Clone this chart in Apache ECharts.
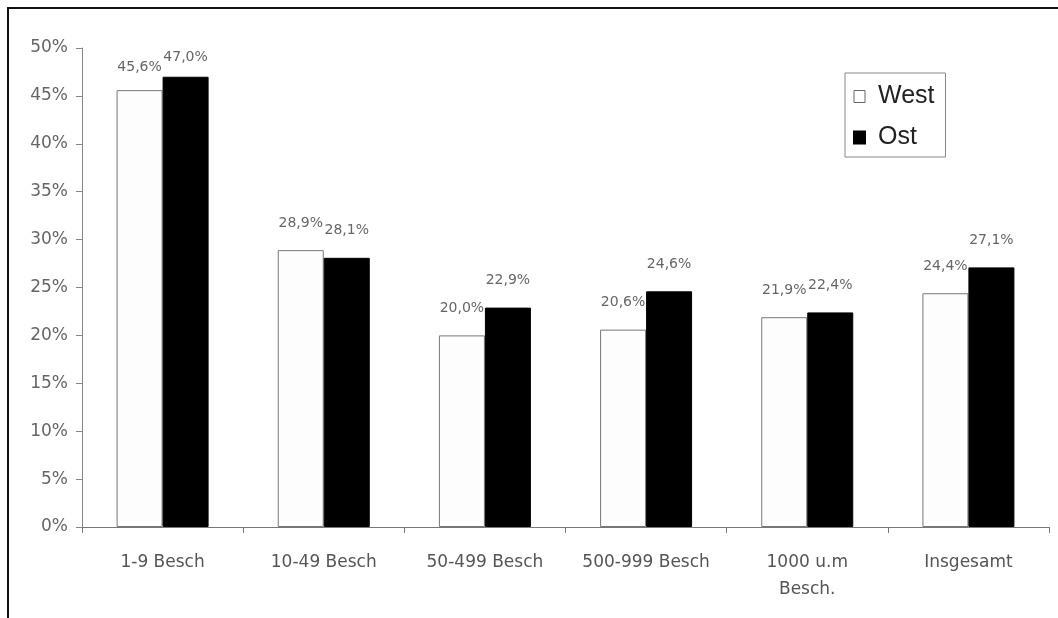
<!DOCTYPE html>
<html>
<head>
<meta charset="utf-8">
<script src="https://cdn.jsdelivr.net/npm/echarts@6/dist/echarts.min.js"></script>
<style>
  html, body { margin: 0; padding: 0; background: #fff; }
  #wrap { position: relative; width: 1058px; height: 618px; overflow: hidden; }
  #chart { position: absolute; left: 0; top: 0; width: 1058px; height: 618px; }
  #frame { position: absolute; left: 7px; top: 7px; width: 1100px; height: 700px;
           border-left: 2px solid #111; border-top: 2px solid #111; pointer-events: none; }
</style>
</head>
<body>
<div id="wrap">
  <div id="chart"></div>
  <div id="frame"></div>
</div>
<script>
// Anteil nach Betriebsgröße, West / Ost (in %)
const categories = ['1-9 Besch', '10-49 Besch', '50-499 Besch', '500-999 Besch', '1000 u.m\nBesch.', 'Insgesamt'];
const westValues = [45.6, 28.9, 20.0, 20.6, 21.9, 24.4];
const ostValues  = [47.0, 28.1, 22.9, 24.6, 22.4, 27.1];
const yTicks = { min: 0, max: 50, interval: 5 };

const pct = v => v.toFixed(1).replace('.', ',') + '%';

// bar items; the tallest pair sits close to the top, so its labels hug the bars
function items(values, firstDistance) {
  return values.map((v, i) => ({
    value: v,
    label: { distance: i === 0 ? firstDistance : 20 }
  }));
}

const labelStyle = {
  show: true,
  position: 'top',
  fontFamily: 'DejaVu Sans',
  fontSize: 14,
  color: '#666',
  formatter: p => pct(p.value)
};

const chart = echarts.init(document.getElementById('chart'), null, { renderer: 'canvas' });
chart.setOption({
  animation: false,
  backgroundColor: '#fff',
  grid: { left: 82, right: 9, top: 48, bottom: 91, containLabel: false },
  legend: {
    orient: 'vertical',
    left: 845,
    top: 73,
    padding: [11, 11, 7, 8],
    itemGap: 16,
    itemWidth: 11,
    itemHeight: 12,
    borderColor: '#888',
    borderWidth: 1,
    textStyle: { fontFamily: 'Liberation Sans', fontSize: 25, color: '#222', padding: [0, 0, 0, 8] },
    data: [
      { name: 'West', icon: 'rect', itemStyle: { color: '#fff', borderColor: '#666', borderWidth: 1 } },
      { name: 'Ost', icon: 'rect', itemStyle: { color: '#000' } }
    ]
  },
  xAxis: {
    type: 'category',
    data: categories,
    axisLine: { show: true, lineStyle: { color: '#777', width: 1 } },
    axisTick: { show: true, alignWithLabel: false, length: 6, lineStyle: { color: '#777' } },
    axisLabel: {
      fontFamily: 'DejaVu Sans',
      fontSize: 17,
      color: '#555',
      lineHeight: 27,
      margin: 22,
      interval: 0
    },
    splitLine: { show: false }
  },
  yAxis: {
    type: 'value',
    min: yTicks.min,
    max: yTicks.max,
    interval: yTicks.interval,
    axisLine: { show: true, lineStyle: { color: '#888', width: 1 } },
    axisTick: { show: true, length: 6, lineStyle: { color: '#888' } },
    axisLabel: {
      fontFamily: 'DejaVu Sans',
      fontSize: 17,
      color: '#666',
      margin: 14,
      formatter: '{value}%'
    },
    splitLine: { show: false }
  },
  series: [
    {
      name: 'West',
      type: 'bar',
      barWidth: 46,
      barGap: '0%',
      data: items(westValues, 16),
      itemStyle: { color: '#fdfdfd', borderColor: '#777', borderWidth: 1 },
      label: labelStyle
    },
    {
      name: 'Ost',
      type: 'bar',
      barWidth: 46,
      barGap: '0%',
      data: items(ostValues, 12),
      itemStyle: { color: '#000', borderColor: '#000', borderWidth: 1 },
      label: labelStyle
    }
  ]
});
</script>
</body>
</html>
